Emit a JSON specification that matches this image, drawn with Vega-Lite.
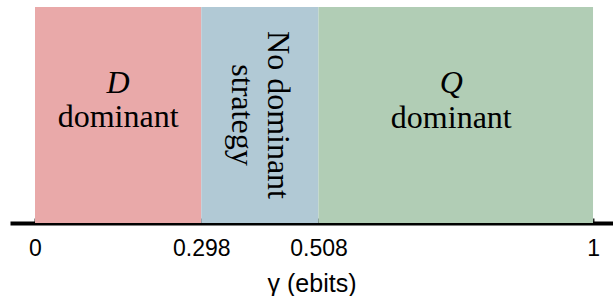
{
  "$schema": "https://vega.github.io/schema/vega-lite/v6.json",
  "width": 603,
  "height": 216,
  "padding": {"left": 10, "top": 7, "right": 0, "bottom": 0},
  "background": "white",
  "config": {"view": {"stroke": null}},
  "datasets": {
    "regions": [
      {"start": 0, "end": 0.298, "region": "D dominant"},
      {"start": 0.298, "end": 0.508, "region": "No dominant strategy"},
      {"start": 0.508, "end": 1, "region": "Q dominant"}
    ],
    "labels": [
      {"kind": "letter", "text": "D", "x": 0.149, "y": 0.602},
      {"kind": "letter", "text": "Q", "x": 0.746, "y": 0.602},
      {"kind": "word", "text": "dominant", "x": 0.149, "y": 0.444},
      {"kind": "word", "text": "dominant", "x": 0.746, "y": 0.44},
      {"kind": "rotated", "text": "No dominant\nstrategy", "x": 0.403, "y": 0.5}
    ]
  },
  "layer": [
    {
      "data": {"name": "regions"},
      "mark": {"type": "rect"},
      "encoding": {
        "x": {
          "field": "start",
          "type": "quantitative",
          "scale": {"domain": [-0.0448, 1.0358], "nice": false, "zero": false},
          "axis": {
            "values": [0, 0.298, 0.508, 1],
            "labelExpr": "'' + datum.value",
            "grid": false,
            "domainColor": "black",
            "domainWidth": 4,
            "tickColor": "#222222",
            "tickWidth": 2,
            "tickSize": -5,
            "labelFont": "Liberation Sans",
            "labelFontSize": 23,
            "labelColor": "black",
            "labelPadding": 19,
            "labelFlush": false,
            "labelOverlap": false,
            "title": "γ (ebits)",
            "titleFont": "Liberation Sans",
            "titleFontSize": 25,
            "titleFontWeight": "normal",
            "titleColor": "black",
            "titlePadding": 11
          }
        },
        "x2": {"field": "end"},
        "color": {
          "field": "region",
          "type": "nominal",
          "scale": {
            "domain": ["D dominant", "No dominant strategy", "Q dominant"],
            "range": ["#E9A9A9", "#B1C9D5", "#B1CDB5"]
          },
          "legend": null
        }
      }
    },
    {
      "data": {"name": "labels"},
      "transform": [{"filter": "datum.kind == 'letter'"}],
      "mark": {"type": "text", "font": "Liberation Serif", "fontStyle": "italic", "fontSize": 32, "align": "center", "baseline": "alphabetic", "color": "black"},
      "encoding": {
        "x": {"field": "x", "type": "quantitative"},
        "y": {"field": "y", "type": "quantitative", "scale": {"domain": [0, 1], "nice": false}, "axis": null},
        "text": {"field": "text"}
      }
    },
    {
      "data": {"name": "labels"},
      "transform": [{"filter": "datum.kind == 'word'"}],
      "mark": {"type": "text", "font": "Liberation Serif", "fontSize": 32, "align": "center", "baseline": "alphabetic", "color": "black"},
      "encoding": {
        "x": {"field": "x", "type": "quantitative"},
        "y": {"field": "y", "type": "quantitative"},
        "text": {"field": "text"}
      }
    },
    {
      "data": {"name": "labels"},
      "transform": [{"filter": "datum.kind == 'rotated'"}],
      "mark": {"type": "text", "font": "Liberation Serif", "fontSize": 32, "align": "center", "baseline": "middle", "angle": 90, "dy": -18, "lineBreak": "\n", "lineHeight": 36, "color": "black"},
      "encoding": {
        "x": {"field": "x", "type": "quantitative"},
        "y": {"field": "y", "type": "quantitative"},
        "text": {"field": "text"}
      }
    }
  ]
}
